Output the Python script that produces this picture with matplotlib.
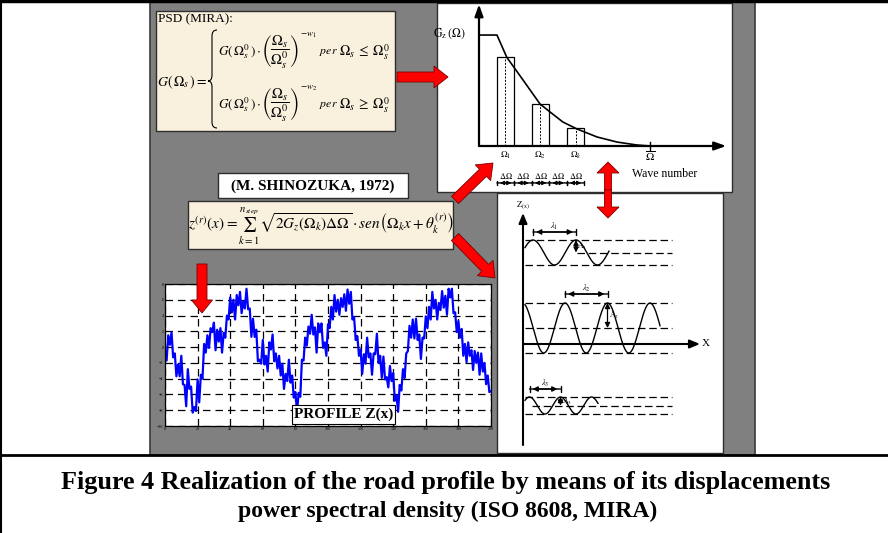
import numpy as np
import matplotlib
matplotlib.use('Agg')
import matplotlib.pyplot as plt
from matplotlib.patches import Rectangle, FancyArrow, PathPatch
from matplotlib.path import Path

plt.rcParams['font.family'] = ['Liberation Serif', 'DejaVu Serif']
plt.rcParams['mathtext.fontset'] = 'stix'

# ---------------- data ----------------
# road profile realization Z(x)
profile_x = list(range(0, 201))
profile_z = [
    -0.4, -1.7, 1.5, 0.3, 1.9, -1.3, -0.8, -3.7, -2.2, -3.7,
    -1.1, -4.7, -4.8, -7.5, -2.8, -5.3, -5.0, -8.3, -7.6, -8.1,
    -4.1, -7.0, -3.5, -4.0, 0.4, -0.7, 1.5, -0.1, 2.4, 1.9,
    3.1, -0.4, 2.2, 0.7, 2.4, -0.7, 1.8, 1.2, 4.0, 3.5,
    6.3, 4.4, 6.0, 3.5, 6.6, 5.3, 7.0, 4.3, 5.8, 4.9,
    7.4, 4.8, 4.9, 1.3, 3.6, 1.3, 2.2, -1.8, -1.6, -2.1,
    0.9, -2.2, -1.1, -3.1, 0.6, -0.3, 1.6, -1.8, -0.8, -2.7,
    -1.1, -3.6, -2.1, -5.3, -3.4, -4.3, -1.6, -4.5, -3.6, -6.4,
    -5.7, -8.2, -5.8, -6.3, -1.6, -1.7, 1.2, 0.2, 2.6, 1.7,
    4.1, 1.6, 2.5, -0.7, 3.0, 1.9, 3.0, -0.1, 0.6, -1.1,
    2.9, 2.4, 5.1, 3.5, 6.6, 4.5, 6.0, 4.1, 6.2, 5.1,
    6.7, 4.6, 7.3, 5.5, 7.0, 3.5, 3.8, 0.9, 1.4, -1.1,
    -0.3, -3.4, -0.9, -2.1, 1.2, -1.3, -0.8, -3.5, -0.8, -0.9,
    1.7, -2.0, -1.1, -3.9, -1.2, -4.1, -3.8, -5.1, -2.4, -4.3,
    -3.3, -6.8, -6.1, -8.2, -4.8, -5.5, -2.8, -3.9, -0.8, -0.5,
    2.7, 1.2, 3.5, 1.1, 3.6, 0.9, 1.6, -1.5, 1.2, 1.1,
    3.9, 2.4, 5.1, 3.5, 7.0, 4.9, 6.0, 3.5, 5.6, 4.7,
    7.1, 5.0, 6.5, 4.1, 7.4, 6.3, 7.4, 4.3, 4.4, 1.9,
    3.3, 1.2, 2.3, -1.1, 0.4, -1.9, 0.6, -1.1, -0.4, -2.9,
    -0.5, -2.0, -0.7, -3.5, -0.8, -3.1, -2.0, -4.7, -3.6, -5.7,
    -5.6]
profile_xticks = list(range(0, 201, 20))
profile_yticks = list(range(-10, 9, 2))

# PSD sketch G_z(Omega)
psd_curve_x = [0.0, 0.73, 1.13, 1.79, 2.48, 2.89, 3.41, 3.98, 4.80, 5.61, 6.42, 6.95]
psd_curve_y = [7.87, 7.87, 6.29, 4.68, 2.98, 2.41, 1.70, 1.21, 0.64, 0.28, 0.07, 0.0]
bar_centers = [1.07, 2.49, 3.93]
bar_heights = [6.31, 2.98, 1.28]
bar_labels = [r'$\Omega_1$', r'$\Omega_2$', r'$\Omega_k$']
bar_width = 0.71
omega_max = 6.95
n_delta = 5

# schematic harmonic components (wavelength, amplitude)
wave_lambda = [43.0, 42.5, 31.0]
wave_amp = [12.5, 25.0, 8.5]
wave_names = ['1', '2', '3']

# ---------------- figure ----------------
W, H = 888, 533
fig = plt.figure(figsize=(W / 100, H / 100), dpi=100)


def frac(x0, y0, x1, y1):
    return [x0 / W, 1 - y1 / H, (x1 - x0) / W, (y1 - y0) / H]


bg = fig.add_axes([0, 0, 1, 1], zorder=0)
bg.set_xlim(0, W)
bg.set_ylim(H, 0)
bg.axis('off')

# outer frame lines
bg.plot([0, W], [1, 1], color='k', lw=2.5)
bg.plot([1, 1], [0, H], color='k', lw=1.5)
bg.plot([0, W], [455, 455], color='k', lw=2)

# gray panel
bg.add_patch(Rectangle((150, 2), 605, 453, fc='#808080', ec='#3a3a3a', lw=1.2))

cream = '#f9f1dd'
bg.add_patch(Rectangle((156, 11), 239, 120, fc=cream, ec='#2e2e2e', lw=1.0))
bg.add_patch(Rectangle((437, 3), 295, 189, fc='white', ec='#2e2e2e', lw=1.0))
bg.add_patch(Rectangle((497, 193), 226, 260, fc='white', ec='#2e2e2e', lw=1.0))
bg.add_patch(Rectangle((218, 173), 190, 25, fc='white', ec='#2e2e2e', lw=1.0))
bg.add_patch(Rectangle((188, 201), 265, 48, fc=cream, ec='#2e2e2e', lw=1.0))

# PSD formula
bg.text(158, 19, 'PSD (MIRA):', ha='left', va='center', fontsize=9.5)
bg.text(157, 82, r'$G(\,\mathit{\Omega}_s\,)=$', ha='left', va='center', fontsize=10)
brace = Path([(217, 30), (212, 30), (212, 36), (212, 75), (212, 81), (208, 81),
              (212, 81), (212, 87), (212, 122), (212, 128), (217, 128)],
             [Path.MOVETO, Path.CURVE3, Path.CURVE3, Path.LINETO, Path.CURVE3, Path.CURVE3,
              Path.CURVE3, Path.CURVE3, Path.LINETO, Path.CURVE3, Path.CURVE3])
bg.add_patch(PathPatch(brace, fc='none', ec='k', lw=0.8))
for yy, w in [(52, r'1'), (105, r'2')]:
    bg.text(218, yy, r'$G(\,\mathit{\Omega}_s^0\,)\cdot$', ha='left', va='center', fontsize=9.5)
    bg.text(261, yy, r'$\left(\dfrac{\mathit{\Omega}_s}{\mathit{\Omega}_s^0}\right)$',
            ha='left', va='center', fontsize=10.5)
    bg.text(300, yy - 17, r'$-w_' + w + '$', ha='left', va='center', fontsize=6.5)
    bg.text(319, yy, r'$per$', ha='left', va='center', fontsize=8.5)
    sym = r'\leq' if w == '1' else r'\geq'
    bg.text(339, yy, r'$\mathit{\Omega}_s\; ' + sym + r'\; \mathit{\Omega}_s^0$', ha='left', va='center', fontsize=10)

bg.text(313, 186, '(M. SHINOZUKA, 1972)', ha='center', va='center', fontsize=11, weight='bold')
bg.text(321, 226,
        r'$z^{(r)}(x)=\sum_{k=1}^{n_{step}}\sqrt{2G_z(\mathit{\Omega}_k)\mathit{\Delta\Omega}}\cdot sen\left(\mathit{\Omega}_k x+\theta_k^{(r)}\right)$',
        ha='center', va='center', fontsize=11)

# caption
bg.text(446, 483, 'Figure 4 Realization of the road profile by means of its displacements',
        ha='center', va='center', fontsize=18.8, weight='bold')
bg.text(448, 511, 'power spectral density (ISO 8608, MIRA)',
        ha='center', va='center', fontsize=17.0, weight='bold')

# ---------------- harmonic components sketch ----------------
ax_x0, ax_y = 523, 344
bg.annotate('', xy=(ax_x0, 213), xytext=(ax_x0, 445),
            arrowprops=dict(arrowstyle='-|>,head_length=0.6,head_width=0.25', lw=1.5, color='k',
                            shrinkA=0, shrinkB=0))
bg.annotate('', xy=(700, ax_y), xytext=(ax_x0, ax_y),
            arrowprops=dict(arrowstyle='-|>,head_length=0.6,head_width=0.25', lw=1.5, color='k',
                            shrinkA=0, shrinkB=0))
bg.text(ax_x0, 206, r'$\mathrm{Z_{(x)}}$', ha='center', va='center', fontsize=6)
bg.text(706, ax_y, 'X', ha='center', va='center', fontsize=8)

wave_center = [252.5, 328.0, 405.5]
wave_peak0 = [533.0, 565.0, 529.5]
wave_end = [609, 660, 598]
wave_mid_start = [577, 525, 532]
dash_end = 672
dim_y = [232, 294, 389]
for i in range(3):
    lam, A, c = wave_lambda[i], wave_amp[i], wave_center[i]
    xs = np.linspace(525, wave_end[i], 300)
    ys = c - A * np.cos(2 * np.pi * (xs - wave_peak0[i]) / lam)
    bg.plot(xs, ys, color='k', lw=1.0)
    for yy, xs0 in [(c - A, 525), (c, wave_mid_start[i]), (c + A, 525)]:
        bg.plot([xs0, dash_end], [yy, yy], color='k', lw=0.9, dashes=(6, 3))
    p1 = wave_peak0[i]
    p2 = p1 + lam
    bg.annotate('', xy=(p1, dim_y[i]), xytext=(p2, dim_y[i]),
                arrowprops=dict(arrowstyle='|-|,widthA=0.2,widthB=0.2', lw=1.0, color='k',
                                shrinkA=0, shrinkB=0))
    bg.annotate('', xy=(p1 + 3, dim_y[i]), xytext=(p2 - 3, dim_y[i]),
                arrowprops=dict(arrowstyle='<|-|>,head_length=0.3,head_width=0.15', lw=1.0, color='k',
                                shrinkA=0, shrinkB=0))
    bg.text((p1 + p2) / 2, dim_y[i] - 6, r'$\lambda_' + wave_names[i] + '$', ha='center', va='center',
            fontsize=6)
    bg.annotate('', xy=(p2, c - A), xytext=(p2, c),
                arrowprops=dict(arrowstyle='<|-|>,head_length=0.3,head_width=0.15', lw=0.9, color='k',
                                shrinkA=0, shrinkB=0))
    bg.text(p2 + 1, c - A / 2, r'$\mathrm{A}_' + wave_names[i] + '$', ha='left', va='center', fontsize=5.5)

# ---------------- profile plot ----------------
pr = fig.add_axes(frac(165, 284, 491, 426), zorder=1)
pr.plot(profile_x, profile_z, color='#0000ff', lw=1.6)
pr.set_xlim(0, 200)
pr.set_ylim(-10, 8)
pr.set_xticks(profile_xticks)
pr.set_yticks(profile_yticks)
pr.tick_params(labelsize=3, length=2, width=0.5, direction='in', pad=1)
pr.grid(True, color='k', lw=0.9, ls=(0, (6, 4)))
pr.set_axisbelow(True)
for s in pr.spines.values():
    s.set_linewidth(0.9)

# ---------------- PSD sketch ----------------
ps = fig.add_axes(frac(479, 5, 725, 146), zorder=1)
ps.set_xlim(0, 10)
ps.set_ylim(0, 10)
ps.axis('off')
ps.bar(bar_centers, bar_heights, width=bar_width, fill=False, edgecolor='k', lw=0.9)
ps.vlines(bar_centers, 0, bar_heights, colors='k', lw=0.7, linestyles=(0, (2, 1.5)))
ps.plot(psd_curve_x, psd_curve_y, color='k', lw=1.2, clip_on=False)
ps.annotate('', xy=(10.05, 0), xytext=(0, 0),
            arrowprops=dict(arrowstyle='-|>,head_length=0.7,head_width=0.25', lw=1.6, color='k',
                            shrinkA=0, shrinkB=0), annotation_clip=False)
ps.annotate('', xy=(0, 10.05), xytext=(0, 0),
            arrowprops=dict(arrowstyle='-|>,head_length=0.7,head_width=0.25', lw=1.6, color='k',
                            shrinkA=0, shrinkB=0), annotation_clip=False)
ps.plot([omega_max, omega_max], [-0.3, 0.3], color='k', lw=1.0, clip_on=False)
for c, lab in zip(bar_centers, bar_labels):
    ps.text(c, -0.7, lab, ha='center', va='center', fontsize=6.5)
ps.text(omega_max, -0.75, r'$\overline{\mathrm{\Omega}}$', ha='center', va='center', fontsize=8)
ps.text(-1.2, 8.0, r'$\mathrm{G_z\,(\Omega)}$', ha='center', va='center', fontsize=8.5)
ps.text(7.56, -1.99, 'Wave number', ha='center', va='center', fontsize=8.5)
for i in range(n_delta):
    a = psd_curve_x[1] + i * bar_width
    b = a + bar_width
    ps.annotate('', xy=(a, -2.62), xytext=(b, -2.62),
                arrowprops=dict(arrowstyle='|-|,widthA=0.15,widthB=0.15', lw=1.0, color='k',
                                shrinkA=0, shrinkB=0), annotation_clip=False)
    ps.annotate('', xy=(a + 0.12, -2.62), xytext=(b - 0.12, -2.62),
                arrowprops=dict(arrowstyle='<|-|>,head_length=0.25,head_width=0.12', lw=0.8, color='k',
                                shrinkA=0, shrinkB=0), annotation_clip=False)
    ps.text((a + b) / 2, -2.15, r'$\mathrm{\Delta\Omega}$', ha='center', va='center', fontsize=6)

# ---------------- top layer: arrows and labels ----------------
top = fig.add_axes([0, 0, 1, 1], zorder=3)
top.set_xlim(0, W)
top.set_ylim(H, 0)
top.axis('off')

arrow_kw = dict(length_includes_head=True, fc='#ff0000', ec='#7a0000', lw=0.6)
top.add_patch(FancyArrow(397, 77, 51, 0, width=10, head_width=22, head_length=14, **arrow_kw))
top.add_patch(FancyArrow(455, 200, 38, -37, width=10, head_width=22, head_length=14, **arrow_kw))
top.add_patch(FancyArrow(455, 237, 40, 41, width=10, head_width=22, head_length=14, **arrow_kw))
top.add_patch(FancyArrow(202, 264, 0, 49, width=10, head_width=21, head_length=13, **arrow_kw))
top.add_patch(FancyArrow(608, 190, 0, -28, width=7, head_width=22, head_length=11, **arrow_kw))
top.add_patch(FancyArrow(608, 190, 0, 28, width=7, head_width=22, head_length=11, **arrow_kw))

top.text(343.5, 414.5, 'PROFILE Z(x)', ha='center', va='center', fontsize=11, weight='bold',
         bbox=dict(boxstyle='square,pad=0.15', fc='white', ec='k', lw=0.8))

fig.savefig('out.png', dpi=100)
